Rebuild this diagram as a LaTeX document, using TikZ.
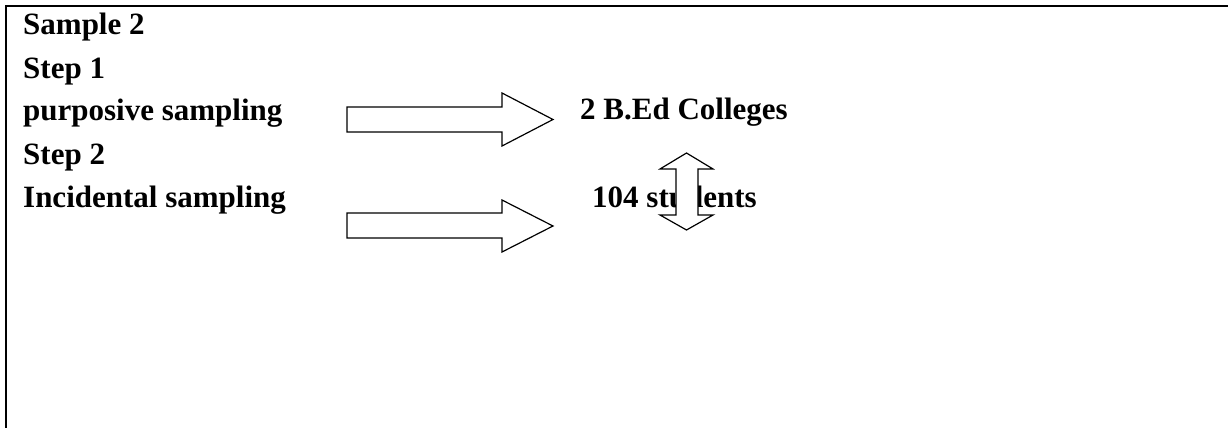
\documentclass[tikz,border=0pt]{standalone}
\usepackage{fontspec}
\setmainfont{Liberation Serif}
\begin{document}
\begin{tikzpicture}[x=1pt,y=-1pt,
  lbl/.style={anchor=base west, inner sep=0pt, font=\fontsize{31}{36}\selectfont\bfseries},
  blockarrow/.style={draw, line width=1.2pt, fill=white, line join=miter}]
\useasboundingbox (0,0) rectangle (1228,428);
% frame
\draw[line width=2.2pt] (6,428) -- (6,6) -- (1228,6);
% left column
\node[lbl] (sample) at (23,35) {Sample 2};
\node[lbl] (step1) at (23,78) {Step 1};
\node[lbl] (purp) at (23,120) {purposive sampling};
\node[lbl] (step2) at (23,164) {Step 2};
\node[lbl] (incid) at (23,207) {Incidental sampling};
% results
\node[lbl] (colleges) at (580,119) {2 B.Ed Colleges};
\node[lbl] (students) at (592,207) {104 students};
% block arrows
\draw[blockarrow] (347,107) -- (502,107) -- (502,93) -- (553,119.5) -- (502,146) -- (502,132) -- (347,132) -- cycle;
\draw[blockarrow] (347,213) -- (502,213) -- (502,200) -- (553,226) -- (502,252) -- (502,238) -- (347,238) -- cycle;
% up-down arrow
\draw[blockarrow] (686.5,153) -- (713,169) -- (698,169) -- (698,215) -- (713,215) -- (686.5,230)
  -- (660,215) -- (676,215) -- (676,169) -- (660,169) -- cycle;
\end{tikzpicture}
\end{document}
